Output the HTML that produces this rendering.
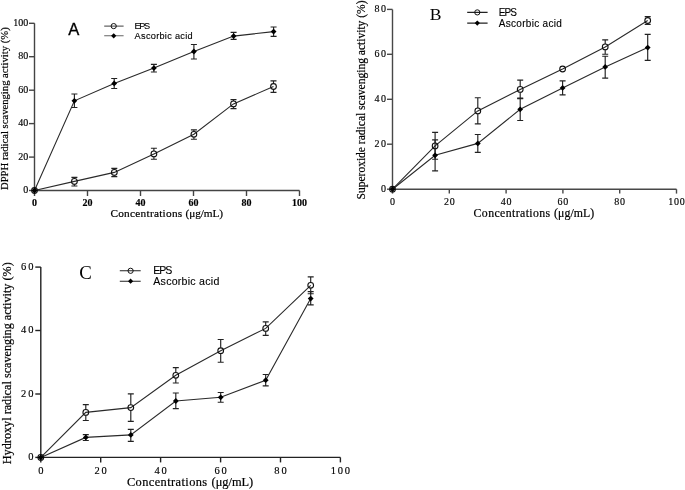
<!DOCTYPE html>
<html><head><meta charset="utf-8"><style>
html,body{margin:0;padding:0;background:#fff;}
svg{display:block;filter:grayscale(1);}
.yt{font-family:"Liberation Serif",serif;font-size:9px;fill:#000;stroke:#000;stroke-width:0.15px;}
.xt{font-family:"Liberation Serif",serif;font-size:9px;fill:#000;stroke:#000;stroke-width:0.15px;}
.xtb{font-family:"Liberation Serif",serif;font-size:9px;font-weight:bold;fill:#111;}
.lg{font-family:"Liberation Sans",sans-serif;fill:#000;stroke:#000;stroke-width:0.12px;}
.tt{font-family:"Liberation Serif",serif;fill:#000;stroke:#000;stroke-width:0.2px;}
</style></head><body>
<svg width="685" height="490" viewBox="0 0 685 490">
<rect width="685" height="490" fill="#fff"/>
<path d="M34.5 23.3V190.5H299.5" fill="none" stroke="#444" stroke-width="1.4"/>
<path d="M29.0 190.5H34.5" stroke="#444" stroke-width="1.4"/>
<text x="28.2" y="192.9" text-anchor="end" class="yt" style="font-size:10px;letter-spacing:0px">0</text>
<path d="M29.0 157.1H34.5" stroke="#444" stroke-width="1.4"/>
<text x="28.2" y="159.5" text-anchor="end" class="yt" style="font-size:10px;letter-spacing:0px">20</text>
<path d="M29.0 123.6H34.5" stroke="#444" stroke-width="1.4"/>
<text x="28.2" y="126.0" text-anchor="end" class="yt" style="font-size:10px;letter-spacing:0px">40</text>
<path d="M29.0 90.2H34.5" stroke="#444" stroke-width="1.4"/>
<text x="28.2" y="92.60000000000001" text-anchor="end" class="yt" style="font-size:10px;letter-spacing:0px">60</text>
<path d="M29.0 56.7H34.5" stroke="#444" stroke-width="1.4"/>
<text x="28.2" y="59.1" text-anchor="end" class="yt" style="font-size:10px;letter-spacing:0px">80</text>
<path d="M29.0 23.3H34.5" stroke="#444" stroke-width="1.4"/>
<text x="28.2" y="25.7" text-anchor="end" class="yt" style="font-size:10px;letter-spacing:0px">100</text>
<path d="M34.5 190.5V196.0" stroke="#444" stroke-width="1.4"/>
<text x="34.5" y="206" text-anchor="middle" class="xt" style="font-size:10px;letter-spacing:0px;font-weight:bold">0</text>
<path d="M87.5 190.5V196.0" stroke="#444" stroke-width="1.4"/>
<text x="87.5" y="206" text-anchor="middle" class="xt" style="font-size:10px;letter-spacing:0px;font-weight:bold">20</text>
<path d="M140.5 190.5V196.0" stroke="#444" stroke-width="1.4"/>
<text x="140.5" y="206" text-anchor="middle" class="xt" style="font-size:10px;letter-spacing:0px;font-weight:bold">40</text>
<path d="M193.5 190.5V196.0" stroke="#444" stroke-width="1.4"/>
<text x="193.5" y="206" text-anchor="middle" class="xt" style="font-size:10px;letter-spacing:0px;font-weight:bold">60</text>
<path d="M246.5 190.5V196.0" stroke="#444" stroke-width="1.4"/>
<text x="246.5" y="206" text-anchor="middle" class="xt" style="font-size:10px;letter-spacing:0px;font-weight:bold">80</text>
<path d="M299.5 190.5V196.0" stroke="#444" stroke-width="1.4"/>
<text x="299.5" y="206" text-anchor="middle" class="xt" style="font-size:10px;letter-spacing:0px;font-weight:bold">100</text>
<path d="M34.5 190.5 L74.4 181.4 L114.3 172.4 L153.9 153.9 L193.9 134.3 L233.5 103.9 L273.5 86.5" fill="none" stroke="#2a2a2a" stroke-width="1.1"/>
<path d="M34.5 190.5 L74.4 100.8 L114.2 83.4 L153.9 68.1 L193.9 51.5 L233.6 36.1 L273.6 31.6" fill="none" stroke="#2a2a2a" stroke-width="1.1"/>
<path d="M74.4 177.4V178.5M74.4 184.3V186M71.4 177.4H77.4M71.4 186H77.4" stroke="#222" stroke-width="1.15"/>
<path d="M114.3 168.3V169.5M114.3 175.3V176.6M111.3 168.3H117.3M111.3 176.6H117.3" stroke="#222" stroke-width="1.15"/>
<path d="M153.9 148.2V151.0M153.9 156.8V159.2M150.9 148.2H156.9M150.9 159.2H156.9" stroke="#222" stroke-width="1.15"/>
<path d="M193.9 129.9V131.4M193.9 137.2V139.2M190.9 129.9H196.9M190.9 139.2H196.9" stroke="#222" stroke-width="1.15"/>
<path d="M233.5 99.6V101.0M233.5 106.8V108.6M230.5 99.6H236.5M230.5 108.6H236.5" stroke="#222" stroke-width="1.15"/>
<path d="M273.5 80.8V83.6M273.5 89.4V92.3M270.5 80.8H276.5M270.5 92.3H276.5" stroke="#222" stroke-width="1.15"/>
<path d="M74.4 94V107.5M71.4 94H77.4M71.4 107.5H77.4" stroke="#222" stroke-width="1.15"/>
<path d="M114.2 78.5V88.5M111.2 78.5H117.2M111.2 88.5H117.2" stroke="#222" stroke-width="1.15"/>
<path d="M153.9 64.4V72M150.9 64.4H156.9M150.9 72H156.9" stroke="#222" stroke-width="1.15"/>
<path d="M193.9 44.5V59M190.9 44.5H196.9M190.9 59H196.9" stroke="#222" stroke-width="1.15"/>
<path d="M233.6 32.4V39.3M230.6 32.4H236.6M230.6 39.3H236.6" stroke="#222" stroke-width="1.15"/>
<path d="M273.6 27V36.4M270.6 27H276.6M270.6 36.4H276.6" stroke="#222" stroke-width="1.15"/>
<circle cx="34.5" cy="190.5" r="2.85" fill="none" stroke="#111" stroke-width="1.1"/>
<circle cx="74.4" cy="181.4" r="2.85" fill="none" stroke="#111" stroke-width="1.1"/>
<circle cx="114.3" cy="172.4" r="2.85" fill="none" stroke="#111" stroke-width="1.1"/>
<circle cx="153.9" cy="153.9" r="2.85" fill="none" stroke="#111" stroke-width="1.1"/>
<circle cx="193.9" cy="134.3" r="2.85" fill="none" stroke="#111" stroke-width="1.1"/>
<circle cx="233.5" cy="103.9" r="2.85" fill="none" stroke="#111" stroke-width="1.1"/>
<circle cx="273.5" cy="86.5" r="2.85" fill="none" stroke="#111" stroke-width="1.1"/>
<path d="M34.5 187.6L37.4 190.5L34.5 193.4L31.6 190.5Z" fill="#000"/>
<path d="M74.4 97.89999999999999L77.30000000000001 100.8L74.4 103.7L71.5 100.8Z" fill="#000"/>
<path d="M114.2 80.5L117.10000000000001 83.4L114.2 86.30000000000001L111.3 83.4Z" fill="#000"/>
<path d="M153.9 65.19999999999999L156.8 68.1L153.9 71.0L151.0 68.1Z" fill="#000"/>
<path d="M193.9 48.6L196.8 51.5L193.9 54.4L191.0 51.5Z" fill="#000"/>
<path d="M233.6 33.2L236.5 36.1L233.6 39.0L230.7 36.1Z" fill="#000"/>
<path d="M273.6 28.700000000000003L276.5 31.6L273.6 34.5L270.70000000000005 31.6Z" fill="#000"/>
<path d="M392.5 9.4V189.2H676.5" fill="none" stroke="#484848" stroke-width="1.4"/>
<path d="M387.0 189.2H392.5" stroke="#484848" stroke-width="1.4"/>
<text x="387.4" y="191.6" text-anchor="end" class="yt" style="font-size:10px;letter-spacing:1.5px">0</text>
<path d="M387.0 144.2H392.5" stroke="#484848" stroke-width="1.4"/>
<text x="387.4" y="146.6" text-anchor="end" class="yt" style="font-size:10px;letter-spacing:1.5px">20</text>
<path d="M387.0 99.3H392.5" stroke="#484848" stroke-width="1.4"/>
<text x="387.4" y="101.7" text-anchor="end" class="yt" style="font-size:10px;letter-spacing:1.5px">40</text>
<path d="M387.0 54.3H392.5" stroke="#484848" stroke-width="1.4"/>
<text x="387.4" y="56.699999999999996" text-anchor="end" class="yt" style="font-size:10px;letter-spacing:1.5px">60</text>
<path d="M387.0 9.4H392.5" stroke="#484848" stroke-width="1.4"/>
<text x="387.4" y="11.8" text-anchor="end" class="yt" style="font-size:10px;letter-spacing:1.5px">80</text>
<path d="M392.5 189.2V193.6" stroke="#484848" stroke-width="1.4"/>
<text x="392.9" y="205" text-anchor="middle" class="xt" style="font-size:10px;letter-spacing:0.8px;font-weight:normal">0</text>
<path d="M449.3 189.2V193.6" stroke="#484848" stroke-width="1.4"/>
<text x="449.7" y="205" text-anchor="middle" class="xt" style="font-size:10px;letter-spacing:0.8px;font-weight:normal">20</text>
<path d="M506.1 189.2V193.6" stroke="#484848" stroke-width="1.4"/>
<text x="506.5" y="205" text-anchor="middle" class="xt" style="font-size:10px;letter-spacing:0.8px;font-weight:normal">40</text>
<path d="M562.9 189.2V193.6" stroke="#484848" stroke-width="1.4"/>
<text x="563.3" y="205" text-anchor="middle" class="xt" style="font-size:10px;letter-spacing:0.8px;font-weight:normal">60</text>
<path d="M619.7 189.2V193.6" stroke="#484848" stroke-width="1.4"/>
<text x="620.1" y="205" text-anchor="middle" class="xt" style="font-size:10px;letter-spacing:0.8px;font-weight:normal">80</text>
<path d="M676.5 189.2V193.6" stroke="#484848" stroke-width="1.4"/>
<text x="676.9" y="205" text-anchor="middle" class="xt" style="font-size:10px;letter-spacing:0.8px;font-weight:normal">100</text>
<path d="M392.5 189.2 L435.1 145.9 L477.8 110.9 L520.2 89.4 L562.6 69.0 L605.2 46.9 L647.7 20.5" fill="none" stroke="#2a2a2a" stroke-width="1.1"/>
<path d="M392.5 189.2 L435.1 155.3 L477.8 143.4 L520.2 109.3 L562.6 87.9 L605.2 66.9 L647.7 47.6" fill="none" stroke="#2a2a2a" stroke-width="1.1"/>
<path d="M435.1 132.3V143.0M435.1 148.8V159.2M432.1 132.3H438.1M432.1 159.2H438.1" stroke="#222" stroke-width="1.15"/>
<path d="M477.8 97.7V108.0M477.8 113.8V123.9M474.8 97.7H480.8M474.8 123.9H480.8" stroke="#222" stroke-width="1.15"/>
<path d="M520.2 80.1V86.5M520.2 92.3V98.6M517.2 80.1H523.2M517.2 98.6H523.2" stroke="#222" stroke-width="1.15"/>
<path d="M605.2 39.9V44.0M605.2 49.8V54.2M602.2 39.9H608.2M602.2 54.2H608.2" stroke="#222" stroke-width="1.15"/>
<path d="M647.7 16.6V17.6M647.7 23.4V24.3M644.7 16.6H650.7M644.7 24.3H650.7" stroke="#222" stroke-width="1.15"/>
<path d="M435.1 139.8V170.9M432.1 139.8H438.1M432.1 170.9H438.1" stroke="#222" stroke-width="1.15"/>
<path d="M477.8 134.5V152.3M474.8 134.5H480.8M474.8 152.3H480.8" stroke="#222" stroke-width="1.15"/>
<path d="M520.2 98.1V120.5M517.2 98.1H523.2M517.2 120.5H523.2" stroke="#222" stroke-width="1.15"/>
<path d="M562.6 80.8V94.9M559.6 80.8H565.6M559.6 94.9H565.6" stroke="#222" stroke-width="1.15"/>
<path d="M605.2 56.2V78.1M602.2 56.2H608.2M602.2 78.1H608.2" stroke="#222" stroke-width="1.15"/>
<path d="M647.7 34.4V60.4M644.7 34.4H650.7M644.7 60.4H650.7" stroke="#222" stroke-width="1.15"/>
<circle cx="392.5" cy="189.2" r="2.85" fill="none" stroke="#111" stroke-width="1.1"/>
<circle cx="435.1" cy="145.9" r="2.85" fill="none" stroke="#111" stroke-width="1.1"/>
<circle cx="477.8" cy="110.9" r="2.85" fill="none" stroke="#111" stroke-width="1.1"/>
<circle cx="520.2" cy="89.4" r="2.85" fill="none" stroke="#111" stroke-width="1.1"/>
<circle cx="562.6" cy="69" r="2.85" fill="none" stroke="#111" stroke-width="1.1"/>
<circle cx="605.2" cy="46.9" r="2.85" fill="none" stroke="#111" stroke-width="1.1"/>
<circle cx="647.7" cy="20.5" r="2.85" fill="none" stroke="#111" stroke-width="1.1"/>
<path d="M392.5 186.29999999999998L395.4 189.2L392.5 192.1L389.6 189.2Z" fill="#000"/>
<path d="M435.1 152.4L438.0 155.3L435.1 158.20000000000002L432.20000000000005 155.3Z" fill="#000"/>
<path d="M477.8 140.5L480.7 143.4L477.8 146.3L474.90000000000003 143.4Z" fill="#000"/>
<path d="M520.2 106.39999999999999L523.1 109.3L520.2 112.2L517.3000000000001 109.3Z" fill="#000"/>
<path d="M562.6 85.0L565.5 87.9L562.6 90.80000000000001L559.7 87.9Z" fill="#000"/>
<path d="M605.2 64.0L608.1 66.9L605.2 69.80000000000001L602.3000000000001 66.9Z" fill="#000"/>
<path d="M647.7 44.7L650.6 47.6L647.7 50.5L644.8000000000001 47.6Z" fill="#000"/>
<path d="M40.8 267.1V457.4H340.4" fill="none" stroke="#222" stroke-width="1.4"/>
<path d="M35.3 457.4H40.8" stroke="#222" stroke-width="1.4"/>
<text x="35.5" y="459.9" text-anchor="end" class="yt" style="font-size:10.5px;letter-spacing:2px">0</text>
<path d="M35.3 394.0H40.8" stroke="#222" stroke-width="1.4"/>
<text x="35.5" y="396.5" text-anchor="end" class="yt" style="font-size:10.5px;letter-spacing:2px">20</text>
<path d="M35.3 330.5H40.8" stroke="#222" stroke-width="1.4"/>
<text x="35.5" y="333.0" text-anchor="end" class="yt" style="font-size:10.5px;letter-spacing:2px">40</text>
<path d="M35.3 267.1H40.8" stroke="#222" stroke-width="1.4"/>
<text x="35.5" y="269.6" text-anchor="end" class="yt" style="font-size:10.5px;letter-spacing:2px">60</text>
<path d="M40.8 457.4V462.4" stroke="#222" stroke-width="1.4"/>
<text x="41.699999999999996" y="474.3" text-anchor="middle" class="xt" style="font-size:10.5px;letter-spacing:1.8px;font-weight:normal">0</text>
<path d="M100.7 457.4V462.4" stroke="#222" stroke-width="1.4"/>
<text x="101.60000000000001" y="474.3" text-anchor="middle" class="xt" style="font-size:10.5px;letter-spacing:1.8px;font-weight:normal">20</text>
<path d="M160.6 457.4V462.4" stroke="#222" stroke-width="1.4"/>
<text x="161.5" y="474.3" text-anchor="middle" class="xt" style="font-size:10.5px;letter-spacing:1.8px;font-weight:normal">40</text>
<path d="M220.6 457.4V462.4" stroke="#222" stroke-width="1.4"/>
<text x="221.5" y="474.3" text-anchor="middle" class="xt" style="font-size:10.5px;letter-spacing:1.8px;font-weight:normal">60</text>
<path d="M280.5 457.4V462.4" stroke="#222" stroke-width="1.4"/>
<text x="281.4" y="474.3" text-anchor="middle" class="xt" style="font-size:10.5px;letter-spacing:1.8px;font-weight:normal">80</text>
<path d="M340.4 457.4V462.4" stroke="#222" stroke-width="1.4"/>
<text x="341.29999999999995" y="474.3" text-anchor="middle" class="xt" style="font-size:10.5px;letter-spacing:1.8px;font-weight:normal">100</text>
<path d="M40.8 457.4 L85.8 412.4 L130.8 407.6 L175.8 375.3 L220.7 350.7 L265.7 328.4 L310.7 285.3" fill="none" stroke="#2a2a2a" stroke-width="1.1"/>
<path d="M40.8 457.4 L85.8 437.4 L130.8 434.9 L175.8 401.0 L220.7 397.3 L265.7 380.2 L310.7 298.6" fill="none" stroke="#2a2a2a" stroke-width="1.1"/>
<path d="M85.8 404.6V409.5M85.8 415.3V420.5M82.8 404.6H88.8M82.8 420.5H88.8" stroke="#222" stroke-width="1.15"/>
<path d="M130.8 393.8V404.7M130.8 410.5V421.4M127.80000000000001 393.8H133.8M127.80000000000001 421.4H133.8" stroke="#222" stroke-width="1.15"/>
<path d="M175.8 367.6V372.4M175.8 378.2V383M172.8 367.6H178.8M172.8 383H178.8" stroke="#222" stroke-width="1.15"/>
<path d="M220.7 339.5V347.8M220.7 353.6V362.2M217.7 339.5H223.7M217.7 362.2H223.7" stroke="#222" stroke-width="1.15"/>
<path d="M265.7 321.8V325.5M265.7 331.3V335.3M262.7 321.8H268.7M262.7 335.3H268.7" stroke="#222" stroke-width="1.15"/>
<path d="M310.7 276.9V282.4M310.7 288.2V293.7M307.7 276.9H313.7M307.7 293.7H313.7" stroke="#222" stroke-width="1.15"/>
<path d="M85.8 434.6V440.5M82.8 434.6H88.8M82.8 440.5H88.8" stroke="#222" stroke-width="1.15"/>
<path d="M130.8 429.3V441.3M127.80000000000001 429.3H133.8M127.80000000000001 441.3H133.8" stroke="#222" stroke-width="1.15"/>
<path d="M175.8 393V408.6M172.8 393H178.8M172.8 408.6H178.8" stroke="#222" stroke-width="1.15"/>
<path d="M220.7 392.5V402.2M217.7 392.5H223.7M217.7 402.2H223.7" stroke="#222" stroke-width="1.15"/>
<path d="M265.7 374.5V385.9M262.7 374.5H268.7M262.7 385.9H268.7" stroke="#222" stroke-width="1.15"/>
<path d="M310.7 291.6V304.9M307.7 291.6H313.7M307.7 304.9H313.7" stroke="#222" stroke-width="1.15"/>
<circle cx="40.8" cy="457.4" r="2.85" fill="none" stroke="#111" stroke-width="1.1"/>
<circle cx="85.8" cy="412.4" r="2.85" fill="none" stroke="#111" stroke-width="1.1"/>
<circle cx="130.8" cy="407.6" r="2.85" fill="none" stroke="#111" stroke-width="1.1"/>
<circle cx="175.8" cy="375.3" r="2.85" fill="none" stroke="#111" stroke-width="1.1"/>
<circle cx="220.7" cy="350.7" r="2.85" fill="none" stroke="#111" stroke-width="1.1"/>
<circle cx="265.7" cy="328.4" r="2.85" fill="none" stroke="#111" stroke-width="1.1"/>
<circle cx="310.7" cy="285.3" r="2.85" fill="none" stroke="#111" stroke-width="1.1"/>
<path d="M40.8 454.5L43.699999999999996 457.4L40.8 460.29999999999995L37.9 457.4Z" fill="#000"/>
<path d="M85.8 434.5L88.7 437.4L85.8 440.29999999999995L82.89999999999999 437.4Z" fill="#000"/>
<path d="M130.8 432.0L133.70000000000002 434.9L130.8 437.79999999999995L127.9 434.9Z" fill="#000"/>
<path d="M175.8 398.1L178.70000000000002 401L175.8 403.9L172.9 401Z" fill="#000"/>
<path d="M220.7 394.40000000000003L223.6 397.3L220.7 400.2L217.79999999999998 397.3Z" fill="#000"/>
<path d="M265.7 377.3L268.59999999999997 380.2L265.7 383.09999999999997L262.8 380.2Z" fill="#000"/>
<path d="M310.7 295.70000000000005L313.59999999999997 298.6L310.7 301.5L307.8 298.6Z" fill="#000"/>
<path d="M104.2 26.1H123.6M104.2 35.8H123.6" stroke="#666" stroke-width="1.1"/>
<circle cx="113.7" cy="26.1" r="2.6" fill="none" stroke="#111" stroke-width="1"/>
<path d="M113.7 33.199999999999996L116.3 35.8L113.7 38.4L111.10000000000001 35.8Z" fill="#000"/>
<text x="134.6" y="29.200000000000003" class="lg" font-size="9.2" textLength="15.6" lengthAdjust="spacing">EPS</text>
<text x="134.6" y="39.199999999999996" class="lg" font-size="9.2" textLength="58" lengthAdjust="spacing">Ascorbic acid</text>
<path d="M467.2 12.4H487.6M467.2 23.1H487.6" stroke="#222" stroke-width="1.1"/>
<circle cx="477.3" cy="12.4" r="2.6" fill="none" stroke="#111" stroke-width="1"/>
<path d="M477.3 20.5L479.90000000000003 23.1L477.3 25.700000000000003L474.7 23.1Z" fill="#000"/>
<text x="498.8" y="15.5" class="lg" font-size="10" textLength="18" lengthAdjust="spacing">EPS</text>
<text x="498.8" y="26.5" class="lg" font-size="10" textLength="63" lengthAdjust="spacing">Ascorbic acid</text>
<path d="M119.8 270.8H140.7M119.8 281.2H140.7" stroke="#222" stroke-width="1.1"/>
<circle cx="130.6" cy="270.8" r="2.6" fill="none" stroke="#111" stroke-width="1"/>
<path d="M130.6 278.59999999999997L133.2 281.2L130.6 283.8L128.0 281.2Z" fill="#000"/>
<text x="153.3" y="273.90000000000003" class="lg" font-size="10.6" textLength="19" lengthAdjust="spacing">EPS</text>
<text x="153.3" y="284.59999999999997" class="lg" font-size="10.6" textLength="66" lengthAdjust="spacing">Ascorbic acid</text>
<text x="68.2" y="34.6" font-family="Liberation Sans" font-size="16.6" fill="#000" stroke="#000" stroke-width="0.3">A</text>
<text x="429.8" y="20.4" font-family="Liberation Serif" font-size="17.6" fill="#000">B</text>
<text x="79.2" y="278.9" font-family="Liberation Serif" font-size="18.8" fill="#000">C</text>
<text x="110.4" y="216.6" class="tt" font-size="11.3" textLength="71.8" lengthAdjust="spacing">Concentrations</text>
<text x="185.6" y="216.6" class="tt" font-size="11.3" textLength="37.4" lengthAdjust="spacing">(μg/mL)</text>
<text x="473.6" y="216.5" class="tt" font-size="11.8" textLength="76.6" lengthAdjust="spacing">Concentrations</text>
<text x="554.1" y="216.5" class="tt" font-size="11.8" textLength="40.1" lengthAdjust="spacing">(μg/mL)</text>
<text x="126.9" y="486.4" class="tt" font-size="12.4" textLength="80.3" lengthAdjust="spacing">Concentrations</text>
<text x="211.6" y="486.4" class="tt" font-size="12.4" textLength="41.6" lengthAdjust="spacing">(μg/mL)</text>
<text transform="translate(8.4 190) rotate(-90)" class="tt" font-size="11.3" textLength="162.7" lengthAdjust="spacingAndGlyphs">DPPH radical scavenging activity (%)</text>
<text transform="translate(364.9 199.5) rotate(-90)" class="tt" font-size="11.8" textLength="199.0" lengthAdjust="spacingAndGlyphs">Superoxide radical scavenging activity (%)</text>
<text transform="translate(10.7 464.2) rotate(-90)" class="tt" font-size="12.2" textLength="202.0" lengthAdjust="spacingAndGlyphs">Hydroxyl radical scavenging activity (%)</text>
</svg></body></html>
